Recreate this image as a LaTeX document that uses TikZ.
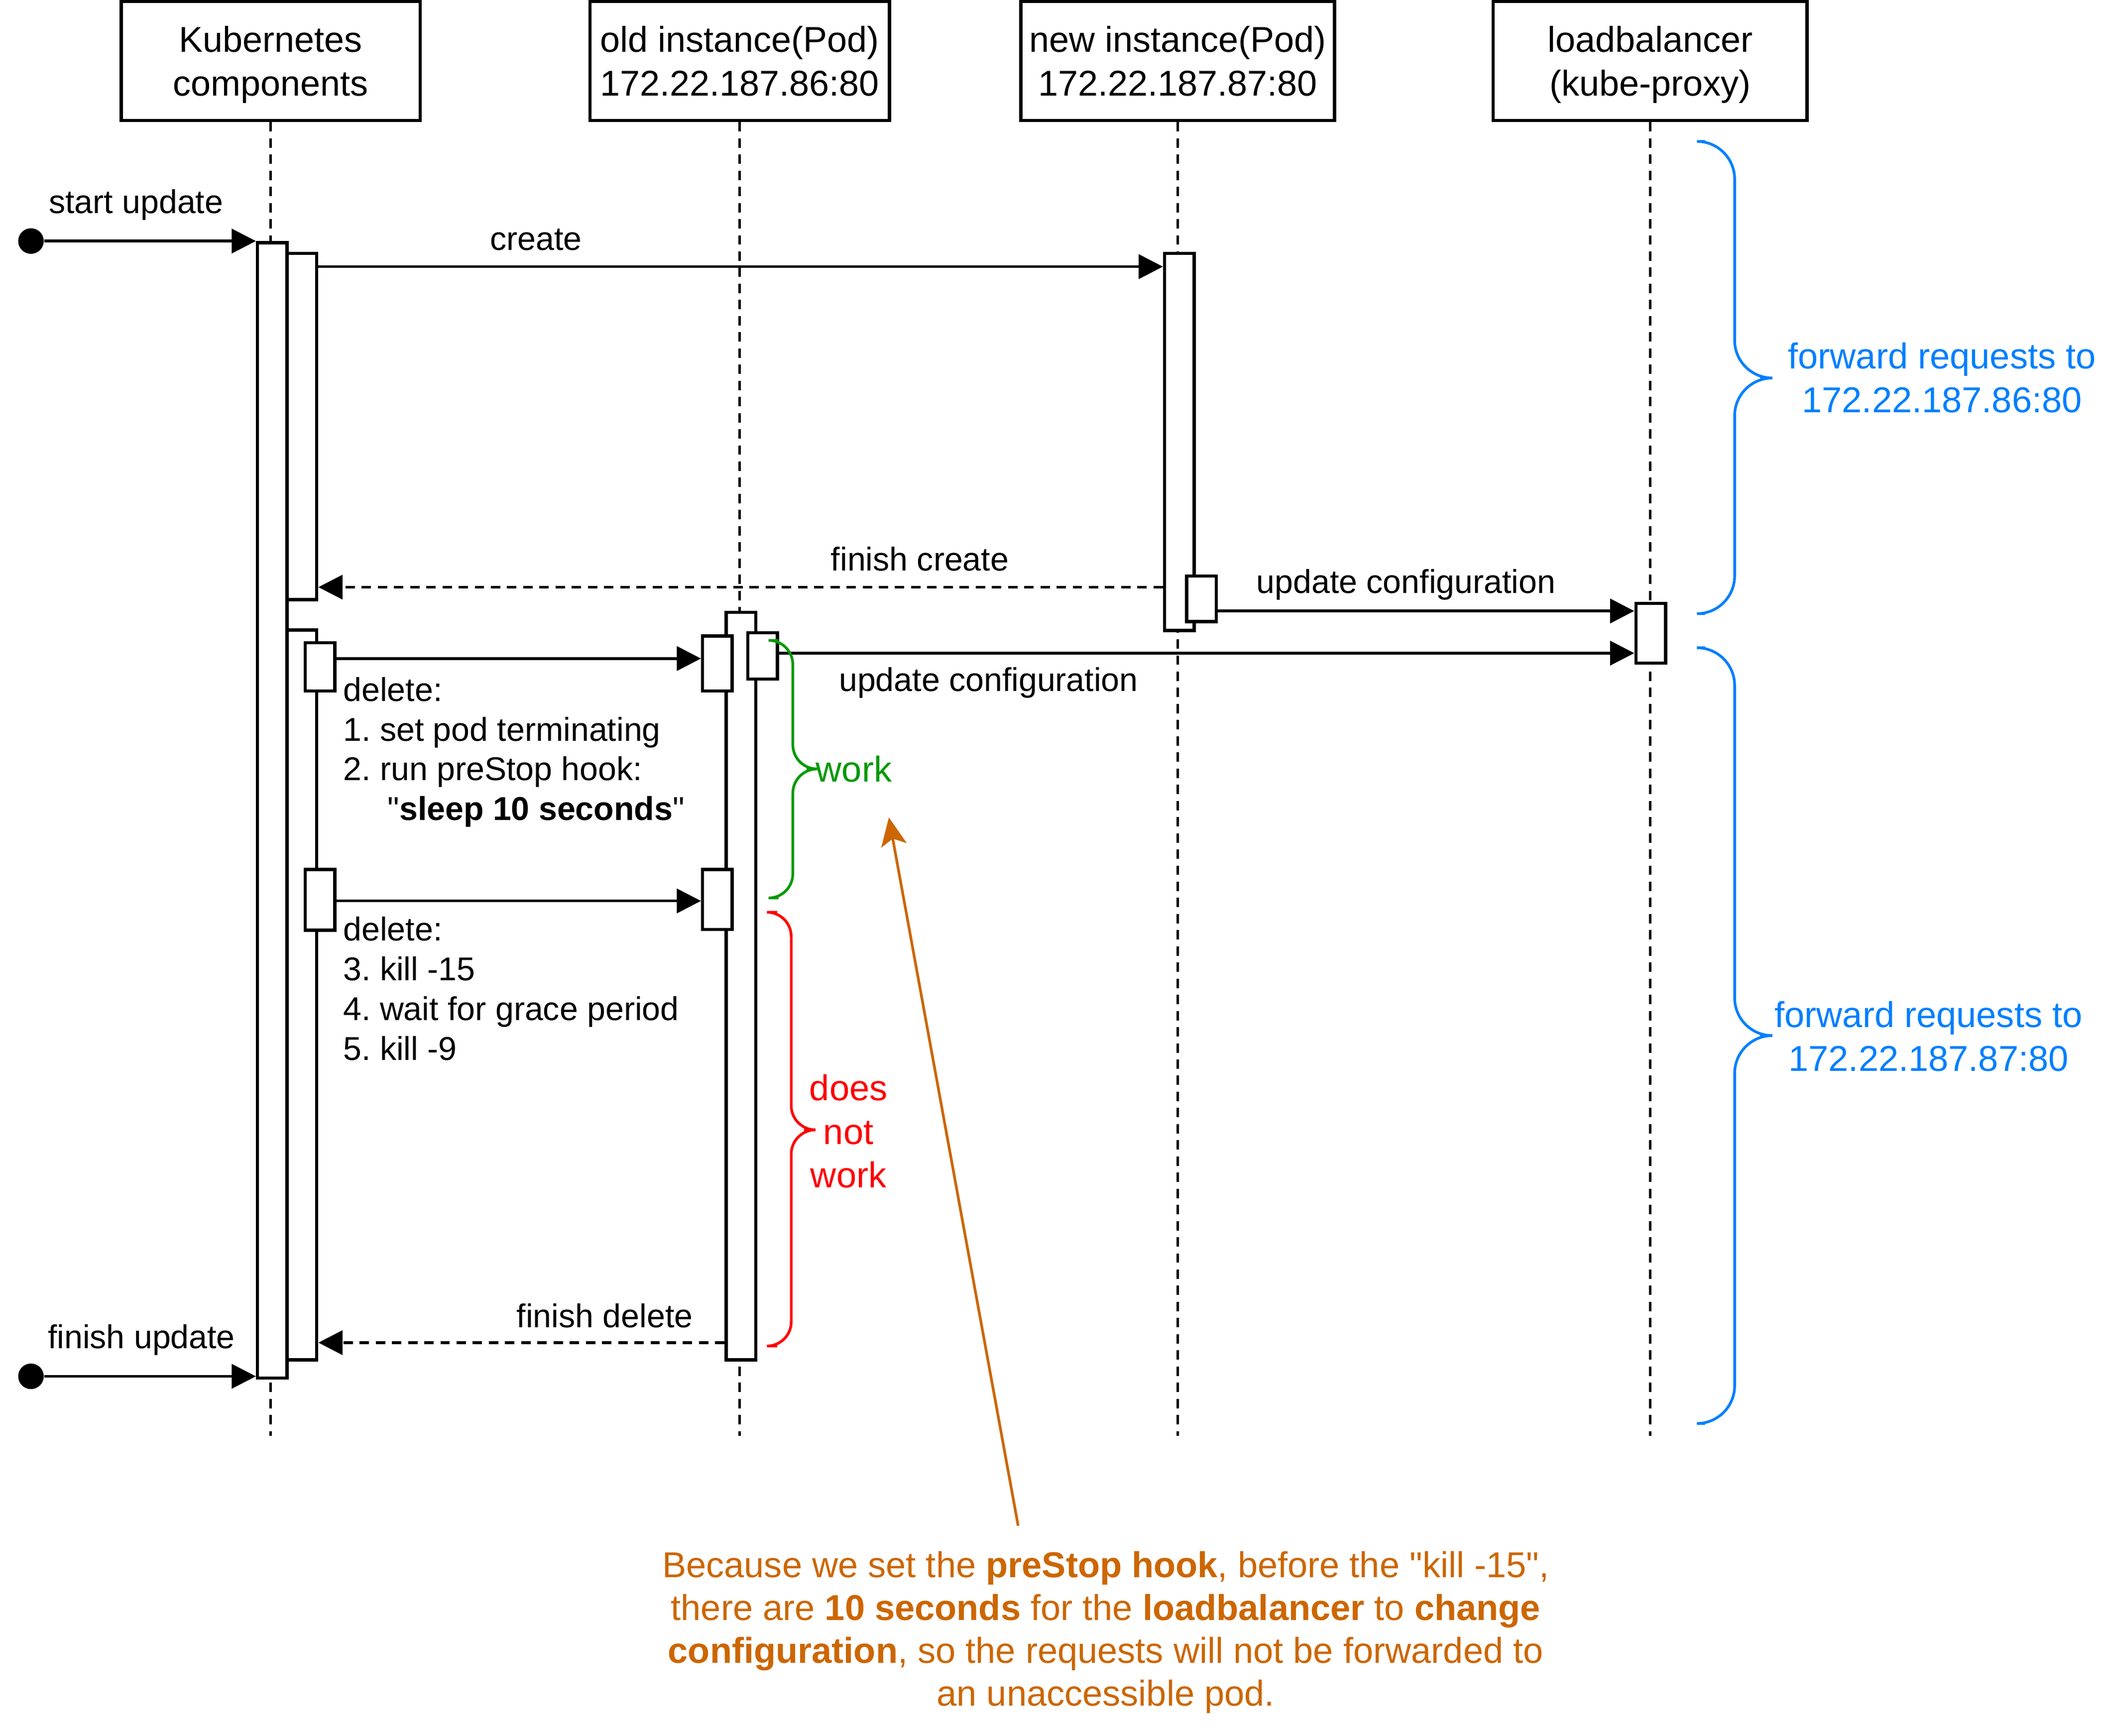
\documentclass[tikz,border=0pt]{standalone}
\usepackage{fontspec}
\setmainfont{Liberation Sans}[Ligatures=TeXOff]
\usetikzlibrary{arrows.meta}
\definecolor{fwdblue}{HTML}{007FFF}
\definecolor{workgreen}{HTML}{009900}
\definecolor{failred}{HTML}{FF0000}
\definecolor{noteorange}{HTML}{CC6600}
\newcommand{\sq}{\symbol{34}}
\frenchspacing
\begin{document}
\frenchspacing
\begin{tikzpicture}[x=0.5pt,y=-0.5pt,
  every node/.style={font=\fontsize{12.25}{14.75}\selectfont},
  bigtext/.style={font=\fontsize{13.35}{16.2}\selectfont, align=center},
  headbox/.style={draw, line width=1.2pt, minimum height=44.25pt, inner sep=0pt, align=center, text depth=0pt, font=\fontsize{13.3}{16.4}\selectfont},
  lifeline/.style={line width=1pt, dash pattern=on 3.5pt off 2.5pt},
  bar/.style={draw, fill=white, line width=1.2pt, inner sep=0pt, minimum width=11pt, anchor=north west},
  msg/.style={line width=1.05pt, -{Triangle[length=9pt,width=9pt]}},
  reply/.style={msg, dash pattern=on 3.5pt off 2.5pt},
  startdot/.style={circle, fill=black, inner sep=0pt, minimum size=9.5pt},
  bracepath/.style={line width=1pt, rounded corners=#1},
  notearrow/.style={draw=noteorange, line width=1pt, -{Stealth[length=10.5pt,width=9.5pt,inset=2.5pt]}},
  lbl/.style={inner sep=1pt}
]
\useasboundingbox (0,0) rectangle (1566,1289);

% headers
\node[headbox, minimum width=111pt] (kh) at (201,45.25) {Kubernetes\\components};
\node[headbox, minimum width=111.25pt] (oh) at (549.25,45.25) {old instance(Pod)\\172.22.187.86:80};
\node[headbox, minimum width=116.5pt] (nh) at (874.5,45.25) {new instance(Pod)\\172.22.187.87:80};
\node[headbox, minimum width=116.5pt] (lh) at (1225.25,45.25) {loadbalancer\\(kube-proxy)};

% lifeline ends
\coordinate (kend) at (201,1066);
\coordinate (oend) at (549.25,1066);
\coordinate (nend) at (874.5,1066);
\coordinate (lend) at (1225.25,1066);
\draw[lifeline] (kh.south) -- (kend);
\draw[lifeline] (oh.south) -- (oend);
\draw[lifeline] (nh.south) -- (nend);
\draw[lifeline] (lh.south) -- (lend);

% activation bars
\node[bar, minimum height=421.5pt] (kmain) at (190,179) {};
\node[bar, minimum height=128.5pt] (kcreate) at (212,187) {};
\node[bar, minimum height=271pt] (kdel) at (212,466.6) {};
\node[bar, minimum height=18pt] (ks1) at (225.5,476) {};
\node[bar, minimum height=22.5pt] (ks2) at (225.5,644.5) {};

\node[bar, minimum height=277.5pt] (omain) at (538,453.6) {};
\node[bar, minimum height=20.5pt] (oa) at (520.5,471) {};
\node[bar, minimum height=22.25pt] (ob) at (520.5,644.5) {};
\node[bar, minimum height=17.15pt] (oc) at (554,468.7) {};

\node[bar, minimum height=140pt] (nmain) at (863.5,187) {};
\node[bar, minimum height=16.85pt] (ns) at (880,426.6) {};

\node[bar, minimum height=22.25pt] (lb) at (1213.5,446.8) {};

% start / finish
\node[startdot] (sdot) at (23,179) {};
\node[startdot] (fdot) at (23,1022) {};
\draw[msg] (sdot) -- (sdot -| kmain.west);
\draw[msg] (fdot) -- (fdot -| kmain.west);
\node[lbl] (lstart) at (101,152) {start update};
\node[lbl] (lfinupd) at (105,995) {finish update};

% messages
\draw[msg] (kcreate.east |- 0,198) -- (nmain.west |- 0,198);
\node[lbl] (lcreate) at (398,178) {create};

\draw[reply] (nmain.west |- 0,436) -- (kcreate.east |- 0,436);
\node[lbl] (lfincreate) at (683,415) {finish create};

\draw[msg] (ns.east |- 0,453.7) -- (lb.west |- 0,453.7);
\node[lbl] (lupd1) at (1044,434) {update configuration};

\draw[msg] (ks1.east |- 0,489) -- (oa.west |- 0,489);
\draw[msg] (oc.east |- 0,485) -- (lb.west |- 0,485);
\node[lbl] (lupd2) at (734,507) {update configuration};

\draw[msg] (ks2.east |- 0,669) -- (ob.west |- 0,669);

\draw[reply] (omain.west |- 0,997) -- (kdel.east |- 0,997);
\node[lbl] (lfindel) at (449,977) {finish delete};

% delete texts (base anchor = last line)
\node[anchor=base west, inner sep=0pt, align=left] (del1) at (254.5,609.1)
  {delete:\\1. set pod terminating\\2. run preStop hook:\\\hspace*{16.5pt}\sq\textbf{sleep 10 seconds}\sq};
\node[anchor=base west, inner sep=0pt, align=left] (del2) at (254.5,787.2)
  {delete:\\3. kill -15\\4. wait for grace period\\5. kill -9};

% braces
\draw[bracepath=9, workgreen] (578,475.5) -- (588.7,475.5) -- (588.7,571) -- (599,571);
\draw[bracepath=9, workgreen] (599,571) -- (588.7,571) -- (588.7,666.8) -- (578,666.8);
\node[bigtext, text=workgreen] (lwork) at (634,571) {work};

\draw[bracepath=9, failred] (577,677.4) -- (587.5,677.4) -- (587.5,839) -- (597,839);
\draw[bracepath=9, failred] (597,839) -- (587.5,839) -- (587.5,999.5) -- (577,999.5);
\node[bigtext, text=failred] (lnotwork) at (630,840) {does\\not\\work};

\draw[bracepath=14, fwdblue] (1266,105) -- (1288,105) -- (1288,280.7) -- (1307,280.7);
\draw[bracepath=14, fwdblue] (1307,280.7) -- (1288,280.7) -- (1288,455.7) -- (1266,455.7);
\node[bigtext, text=fwdblue] (lfwd1) at (1442,280.5) {forward requests to\\172.22.187.86:80};

\draw[bracepath=14, fwdblue] (1266,481) -- (1288,481) -- (1288,769) -- (1307,769);
\draw[bracepath=14, fwdblue] (1307,769) -- (1288,769) -- (1288,1057) -- (1266,1057);
\node[bigtext, text=fwdblue] (lfwd2) at (1432,769.5) {forward requests to\\172.22.187.87:80};

% note
\coordinate (notefrom) at (756,1133);
\coordinate (noteto) at (660,607);
\draw[notearrow] (notefrom) -- (noteto);
\node[bigtext, text=noteorange, font=\fontsize{13.35}{15.9}\selectfont] (note) at (821,1212)
  {Because we set the \textbf{preStop hook}, before the \sq kill -15\sq,\\
   there are \textbf{10 seconds} for the \textbf{loadbalancer} to \textbf{change}\\
   \textbf{configuration}, so the requests will not be forwarded to\\
   an unaccessible pod.};
\end{tikzpicture}
\end{document}
